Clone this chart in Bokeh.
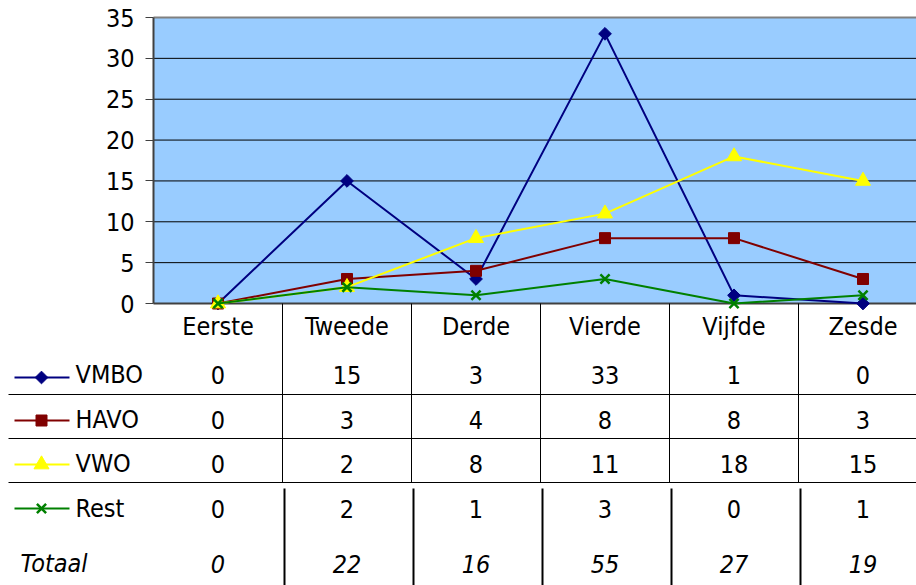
import numpy as np
from bokeh.plotting import figure
from bokeh.models import (Range1d, FixedTicker, BoxAnnotation, LinearAxis)
from bokeh.core.properties import value
from bokeh.embed import file_html
from bokeh.resources import INLINE

# ---------------- data ----------------
categories = ["Eerste", "Tweede", "Derde", "Vierde", "Vijfde", "Zesde"]
vmbo = [0, 15, 3, 33, 1, 0]
havo = [0, 3, 4, 8, 8, 3]
vwo = [0, 2, 8, 11, 18, 15]
rest = [0, 2, 1, 3, 0, 1]
totaal = [0, 22, 16, 55, 27, 19]
series_names = ["VMBO", "HAVO", "VWO", "Rest"]
total_label = "Totaal"
y_ticks = [0, 5, 10, 15, 20, 25, 30, 35]
y_max = 35

# ---------------- layout / style ----------------
FONT_NAME = "DejaVu Sans Condensed"
FONT = value(FONT_NAME)
FS = "25px"
W, H = 916, 585
FRAME_LEFT = 153          # page x of the value axis
CAT_W = 129               # px per category
PXU = 286 / 35            # px per y unit
Y0_PAGE = 303             # page y of value 0

def xv(px):               # page x -> category units
    return (px - FRAME_LEFT) / CAT_W

def yv(py):               # page y -> value units
    return (Y0_PAGE - py) / PXU

styles = [
    ("#000080", "square", 9, np.pi / 4, 1),
    ("#800000", "square", 11, 0, 1),
    ("#FFFF00", "triangle", 15, 0, 1),
    ("#008000", "x", 13, 0, 2.5),
]
series_vals = [vmbo, havo, vwo, rest]

n = len(categories)
xc = np.arange(n) + 0.5
bounds_x = np.arange(1, n)
x_lo, x_hi = xv(0), xv(W)
y_lo, y_hi = yv(H), yv(0)

p = figure(width=W, height=H, x_range=Range1d(x_lo, x_hi),
           y_range=Range1d(y_lo, y_hi), x_axis_location=None,
           y_axis_location=None, output_backend="svg", toolbar_location=None,
           min_border=0, min_border_left=0, min_border_right=0,
           min_border_top=0, min_border_bottom=0)
p.outline_line_color = None
p.background_fill_color = "white"
p.border_fill_color = "white"
p.xgrid.visible = False
p.ygrid.visible = False

# plot area background
p.add_layout(BoxAnnotation(left=0, bottom=0, top=y_max, fill_color="#99CCFF",
                           fill_alpha=1, line_alpha=0, level="underlay"))

# value axis placed at the plot area's left edge
ax = LinearAxis(ticker=FixedTicker(ticks=y_ticks), fixed_location=0,
                bounds=(0, y_max))
ax.axis_line_color = "#404040"
ax.axis_line_width = 2
ax.major_tick_line_color = "#404040"
ax.major_tick_line_width = 1
ax.major_tick_out = 8
ax.major_tick_in = 0
ax.minor_tick_line_color = None
ax.major_label_text_font = FONT_NAME
ax.major_label_text_font_size = FS
ax.major_label_text_color = "black"
ax.major_label_standoff = 11
p.add_layout(ax, "left")

# horizontal gridlines inside the plot area (from the tick list)
grid_vals = [t for t in y_ticks if 0 < t < y_max]
p.segment(x0=[0] * len(grid_vals), y0=grid_vals, x1=[x_hi] * len(grid_vals),
          y1=grid_vals, line_color="black", line_width=1)
# plot area top border and category axis line
p.segment(x0=[0], y0=[y_max], x1=[x_hi], y1=[y_max], line_color="#808080",
          line_width=2)
p.segment(x0=[0], y0=[0], x1=[x_hi], y1=[0], line_color="#404040",
          line_width=2)

# ---------------- data table ----------------
header_y = 326
row_y = [374, 419, 463, 508]
key_y = [377, 420, 464, 508]
total_y = 563
hlines = [394, 438, 482]
TABLE_LEFT = 8

hl = [yv(v) for v in hlines]
p.segment(x0=[xv(TABLE_LEFT)] * len(hl), y0=hl, x1=[x_hi] * len(hl), y1=hl,
          line_color="black", line_width=1)
p.segment(x0=bounds_x, y0=[0] * len(bounds_x), x1=bounds_x,
          y1=[yv(hlines[-1])] * len(bounds_x), line_color="black",
          line_width=1)
p.segment(x0=bounds_x + 2 / CAT_W, y0=[yv(hlines[-1] + 6)] * len(bounds_x),
          x1=bounds_x + 2 / CAT_W, y1=[y_lo] * len(bounds_x),
          line_color="black", line_width=2)

txt = dict(text_baseline="middle", text_font=FONT, text_font_size=FS,
           text_color="black")

p.text(x=xc, y=[yv(header_y)] * n, text=categories, text_align="center", **txt)

# series: chart lines + markers, legend keys, table rows
for name, vals, ry, ky, (color, marker, size, angle, lw) in zip(
        series_names, series_vals, row_y, key_y, styles):
    p.line(xc, vals, line_color=color, line_width=2)
    p.scatter(xc, vals, marker=marker, size=size, angle=angle,
              fill_color=color, line_color=color, line_width=lw)
    p.segment(x0=[xv(14)], y0=[yv(ky)], x1=[xv(69)], y1=[yv(ky)],
              line_color=color, line_width=2)
    p.scatter(x=[xv(41)], y=[yv(ky)], marker=marker, size=size, angle=angle,
              fill_color=color, line_color=color, line_width=lw)
    p.text(x=[xv(75)], y=[yv(ry)], text=[name], text_align="left", **txt)
    p.text(x=xc, y=[yv(ry)] * n, text=[str(v) for v in vals],
           text_align="center", **txt)

p.text(x=[xv(20)], y=[yv(total_y)], text=[total_label], text_align="left",
       text_font_style="italic", **txt)
p.text(x=xc, y=[yv(total_y)] * n, text=[str(v) for v in totaal],
       text_align="center", text_font_style="italic", **txt)

open("out.html", "w").write(file_html(p, INLINE))
